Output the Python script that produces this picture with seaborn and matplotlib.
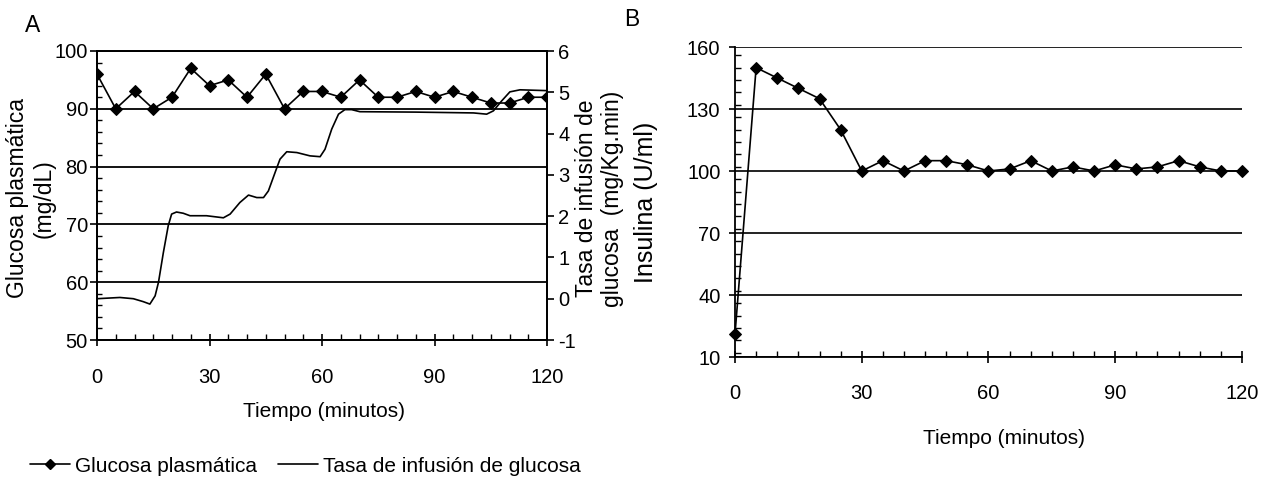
import matplotlib
matplotlib.use("Agg")
import matplotlib.pyplot as plt
import seaborn as sns
import pandas as pd
from matplotlib.ticker import MultipleLocator
from matplotlib.lines import Line2D

# ---------------- data ----------------
tiempo_a = list(range(0, 121, 5))
glucosa = [96, 90, 93, 90, 92, 97, 94, 95, 92, 96, 90, 93, 93,
           92, 95, 92, 92, 93, 92, 93, 92, 91, 91, 92, 92]

tiempo_inf = [0, 6.1, 9.7, 12.3, 14.1, 15.5, 16.4, 17.7, 19.0, 19.9, 21.2, 23.0,
              24.8, 29.2, 33.7, 35.5, 38.1, 40.4, 42.6, 44.4, 45.7, 47.5, 48.8,
              50.6, 53.3, 56.8, 59.5, 60.8, 62.6, 64.4, 66.1, 67.9, 70.1, 85,
              100.4, 103.9, 105.7, 107.9, 110.1, 112.8, 120]
infusion = [0, 0.03, 0.0, -0.07, -0.13, 0.07, 0.4, 1.12, 1.77, 2.05, 2.1, 2.07,
            2.01, 2.01, 1.96, 2.05, 2.33, 2.51, 2.45, 2.45, 2.61, 3.06, 3.38,
            3.56, 3.54, 3.46, 3.44, 3.62, 4.11, 4.47, 4.58, 4.58, 4.53, 4.52,
            4.5, 4.47, 4.55, 4.79, 5.01, 5.06, 5.04]

tiempo_b = list(range(0, 121, 5))
insulina = [21, 150, 145, 140, 135, 120, 100, 105, 100, 105, 105, 103, 100,
            101, 105, 100, 102, 100, 103, 101, 102, 105, 102, 100, 100]

xticks = [0, 30, 60, 90, 120]
yticks_a = [50, 60, 70, 80, 90, 100]
yticks_a2 = [-1, 0, 1, 2, 3, 4, 5, 6]
yticks_b = [10, 40, 70, 100, 130, 160]

# ---------------- style ----------------
sns.set_theme(style="white")
plt.rcParams["font.family"] = ["Liberation Sans", "DejaVu Sans"]
plt.rcParams.update({
    "axes.edgecolor": "black", "text.color": "black",
    "xtick.color": "black", "ytick.color": "black",
    "axes.labelcolor": "black", "axes.linewidth": 1.2,
    "axes.unicode_minus": False,
})

fig = plt.figure(figsize=(12.64, 4.86), dpi=100)
W, H = 1264, 486

def box(l, t, r, b):
    return [l / W, 1 - b / H, (r - l) / W, (b - t) / H]

axA = fig.add_axes(box(97, 51, 547, 340))
axA2 = axA.twinx()
axB = fig.add_axes(box(735, 47, 1242, 357))

dfA = pd.DataFrame({"t": tiempo_a, "g": glucosa})
dfI = pd.DataFrame({"t": tiempo_inf, "v": infusion})
dfB = pd.DataFrame({"t": tiempo_b, "i": insulina})

TS = 14.5
# ---- panel A ----
axA.set_xlim(0, 120)
axA.set_ylim(50, 100)
axA.set_yticks(yticks_a)
axA.set_xticks(xticks)
axA.xaxis.set_minor_locator(MultipleLocator(5))
axA.yaxis.set_minor_locator(MultipleLocator(2))
axA.grid(axis="y", which="major", color="black", linewidth=1.3)
axA.set_axisbelow(True)
sns.lineplot(data=dfA, x="t", y="g", ax=axA, color="black", linewidth=1.2,
             marker="D", markersize=6, markeredgecolor="black", zorder=5)
sns.lineplot(data=dfI, x="t", y="v", ax=axA2, color="black", linewidth=1.2)
axA2.set_ylim(-1, 6)
axA2.set_yticks(yticks_a2)
axA2.set_xlim(0, 120)

axA.tick_params(axis="x", which="major", direction="inout", length=8.5, width=1.2,
                pad=16, labelsize=TS, bottom=True)
axA.tick_params(axis="x", which="minor", direction="in", length=4.5, width=1.0, bottom=True)
axA.tick_params(axis="y", which="major", direction="out", length=5, width=1.2,
                pad=1.5, labelsize=TS, left=True)
axA.tick_params(axis="y", which="minor", direction="in", length=3.5, width=1.0, left=True)
axA2.tick_params(axis="y", which="major", direction="out", length=5, width=1.2,
                 pad=3, labelsize=TS, right=True)
axA2.tick_params(axis="y", which="minor", right=False)

axA.set_xlabel("Tiempo (minutos)", fontsize=15)
axA.xaxis.set_label_coords(0.504, -0.215)
axA.set_ylabel("Glucosa plasmática\n(mg/dL)", fontsize=16.5, multialignment="center")
axA.yaxis.label.set_rotation_mode("default")
axA.yaxis.label.set_va("center")
axA.yaxis.label.set_ha("center")
axA.yaxis.set_label_coords(-0.147, 0.49)
axA2.set_ylabel("Tasa de infusión de\nglucosa  (mg/Kg.min)", fontsize=16.5,
                multialignment="center")
axA2.yaxis.label.set_rotation_mode("default")
axA2.yaxis.label.set_va("center")
axA2.yaxis.label.set_ha("center")
axA2.yaxis.set_label_coords(1.117, 0.49)
for s in axA.spines.values():
    s.set_visible(True)
    s.set_linewidth(1.3)
for s in axA2.spines.values():
    s.set_linewidth(1.3)

# ---- panel B ----
sns.lineplot(data=dfB, x="t", y="i", ax=axB, color="black", linewidth=1.2,
             marker="D", markersize=6.2, markeredgecolor="black", zorder=5,
             clip_on=False)
axB.set_xlim(0, 120)
axB.set_ylim(10, 160)
axB.set_xticks(xticks)
axB.set_yticks(yticks_b)
axB.xaxis.set_minor_locator(MultipleLocator(5))
axB.yaxis.set_minor_locator(MultipleLocator(6))
axB.grid(axis="y", which="major", color="#222222", linewidth=1.4)
axB.set_axisbelow(True)
axB.spines["top"].set_visible(False)
axB.spines["right"].set_visible(False)
axB.spines["left"].set_linewidth(1.3)
axB.spines["bottom"].set_linewidth(1.3)
axB.tick_params(axis="x", which="major", direction="inout", length=8.5, width=1.2,
                pad=15, labelsize=TS, bottom=True)
axB.tick_params(axis="x", which="minor", direction="in", length=4.5, width=1.0, bottom=True)
axB.tick_params(axis="y", which="major", direction="out", length=4.5, width=1.2,
                pad=6, labelsize=TS, left=True)
axB.tick_params(axis="y", which="minor", direction="in", length=4, width=1.0, left=True)
axB.set_xlabel("Tiempo (minutos)", fontsize=15)
axB.xaxis.set_label_coords(0.53, -0.232)
axB.set_ylabel("Insulina (U/ml)", fontsize=18, fontweight="medium")
axB.yaxis.label.set_rotation_mode("default")
axB.yaxis.label.set_va("center")
axB.yaxis.label.set_ha("center")
axB.yaxis.set_label_coords(-0.175, 0.5)

# panel letters
fig.text(33 / W, 1 - 25 / H, "A", fontsize=16.5, ha="center", va="center")
fig.text(632 / W, 1 - 20 / H, "B", fontsize=16.5, ha="center", va="center")

# legend
handles = [Line2D([], [], color="black", lw=1.2, marker="D", markersize=5),
           Line2D([], [], color="black", lw=1.2)]
fig.legend(handles, ["Glucosa plasmática", "Tasa de infusión de glucosa"],
           loc="center left", bbox_to_anchor=(22 / W, 1 - 466 / H), ncol=2,
           frameon=False, fontsize=15, handlelength=1.9, handletextpad=0.25,
           columnspacing=1.0, borderaxespad=0)

fig.savefig("out.png", dpi=100)
